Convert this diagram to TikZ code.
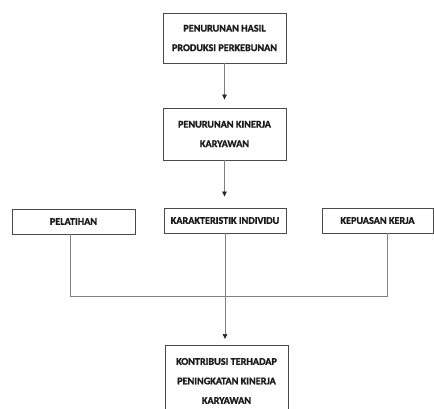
\documentclass[tikz,border=0pt]{standalone}
\usepackage{fontspec}
\setmainfont{Carlito}[BoldFeatures={FakeBold=1.2}]
\usetikzlibrary{arrows.meta,calc,positioning}
\definecolor{ink}{HTML}{1A1A1A}
\definecolor{frame}{HTML}{4A4A4A}
\definecolor{wire}{HTML}{808080}
\tikzset{
  basebox/.style={draw=frame,line width=0.9pt,fill=white,align=center,font=\fontsize{10.2}{19.5}\selectfont\bfseries,text=ink,inner sep=0pt},
  flowbox/.style={basebox,minimum width=123pt,minimum height=50pt},
  factorbox/.style={basebox,minimum height=25pt},
  arrow/.style={-{Triangle[length=5pt,width=4.5pt,color=black!85]},line width=0.7pt,draw=wire},
  wirepath/.style={line width=0.7pt,draw=wire}
}
\begin{document}
\begin{tikzpicture}[x=1pt,y=-1pt]
  \useasboundingbox (0,0) rectangle (434,408);

  \node[flowbox] (hasil) at (224.5,38) {PENURUNAN HASIL\\PRODUKSI PERKEBUNAN};
  \node[flowbox,minimum height=52pt] (kinerja) at (224.5,134) {PENURUNAN KINERJA\\KARYAWAN};

  \node[factorbox,minimum width=123pt] (pelatihan) at (73.5,221.5) {PELATIHAN};
  \node[factorbox,minimum width=122pt] (individu) at (225,220.5) {KARAKTERISTIK INDIVIDU};
  \node[factorbox,minimum width=111pt] (kepuasan) at (377.5,220.5) {KEPUASAN KERJA};

  \node[flowbox,anchor=north,minimum height=71pt] (kontribusi) at (226.5,345) {KONTRIBUSI TERHADAP\\PENINGKATAN KINERJA\\KARYAWAN};

  \coordinate (bus) at (0,296);

  \draw[arrow,shorten >=8pt] (hasil) -- (kinerja);
  \draw[arrow,shorten >=11pt] (kinerja.south) -- (kinerja.south |- individu.north);
  \draw[wirepath] ([xshift=-3.5pt]pelatihan.south) |- ([xshift=9.5pt]kepuasan.south |- bus) -- ([xshift=9.5pt]kepuasan.south);
  \draw[arrow,shorten >=6pt] (individu.south) -- (individu.south |- kontribusi.north);
\end{tikzpicture}
\end{document}
